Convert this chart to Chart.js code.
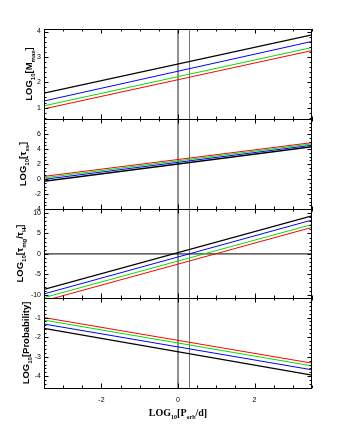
<!DOCTYPE html>
<html><head><meta charset="utf-8">
<script src="https://cdn.jsdelivr.net/npm/chart.js@4"></script>
<style>
html,body{margin:0;padding:0;background:#fff;}
#wrap{position:relative;width:340px;height:440px;background:#fff;}
.p{position:absolute;left:0;width:340px;}
</style></head><body><div id="wrap">
<div class="p" style="top:21px;height:106px"><canvas id="c1"></canvas></div>
<div class="p" style="top:111px;height:106px"><canvas id="c2"></canvas></div>
<div class="p" style="top:201px;height:105px"><canvas id="c3"></canvas></div>
<div class="p" style="top:290px;height:150px"><canvas id="c4"></canvas></div>
</div>
<script>
// ---- data ----
const logPorb = [-3.5, 3.5];            // x endpoints of each straight line
const markerLines = [0, 0.301];         // vertical reference lines (log P)
const xTicks = [-2, 0, 2];

// Panel 1: LOG10[Mmax]
const mmaxBlack = [1.57, 3.87];
const mmaxBlue  = [1.26, 3.61];
const mmaxGreen = [1.07, 3.37];
const mmaxRed   = [0.95, 3.25];
const yTicks1 = [1, 2, 3, 4];

// Panel 2: LOG10[tau_ss]
const tauBlack = [-0.30, 4.30];
const tauBlue  = [-0.05, 4.50];
const tauGreen = [0.15, 4.68];
const tauRed   = [0.35, 4.85];
const yTicks2 = [-4, -2, 0, 2, 4, 6];

// Panel 3: LOG10[tau_mg / tau_H]
const ratioBlack = [-8.7, 9.3];
const ratioBlue  = [-9.8, 8.3];
const ratioGreen = [-10.7, 7.2];
const ratioRed   = [-11.5, 6.5];
const ratioZero  = [0, 0];
const yTicks3 = [-10, -5, 0, 5, 10];

// Panel 4: LOG10[Probability]
const probBlack = [-1.55, -3.94];
const probBlue  = [-1.33, -3.67];
const probGreen = [-1.13, -3.47];
const probRed   = [-1.00, -3.33];
const yTicks4 = [-4, -3, -2, -1];

// ---- helpers ----
function pts(ys){ return logPorb.map((x,i)=>({x:x,y:ys[i]})); }
function series(ys,color,w){
  return {data:pts(ys),borderColor:color,borderWidth:w||1,pointRadius:0,fill:false,tension:0};
}
function vline(x,ymin,ymax,color){
  return {data:[{x:x,y:ymin},{x:x,y:ymax}],borderColor:color,borderWidth:1,pointRadius:0,fill:false};
}
function richText(ctx, parts, cx, cy, rot, size, family){
  const sub = Math.round(size*0.62);
  const mf = 'bold '+size+'px '+family, sf = 'bold '+sub+'px '+family;
  let W = 0;
  const ws = parts.map(p=>{ctx.font = p[1]?sf:mf; const w = ctx.measureText(p[0]).width; W+=w; return w;});
  ctx.save();
  ctx.translate(cx, cy);
  if (rot) ctx.rotate(-Math.PI/2);
  ctx.fillStyle = '#000';
  ctx.textBaseline = 'alphabetic';
  ctx.textAlign = 'left';
  let x = -W/2;
  parts.forEach((p,i)=>{
    ctx.font = p[1]?sf:mf;
    ctx.fillText(p[0], x, size*0.36 + (p[1]? size*0.3 : 0));
    x += ws[i];
  });
  ctx.restore();
}

const framePlugin = {
  id:'frame',
  afterDatasetsDraw(chart, args, o){
    const ctx = chart.ctx, a = chart.chartArea, xs = chart.scales.x, ys = chart.scales.y;
    ctx.save();
    ctx.strokeStyle = '#000'; ctx.lineWidth = 1;
    ctx.strokeRect(Math.round(a.left)+0.5, Math.round(a.top)+0.5, Math.round(a.right-a.left)-1, Math.round(a.bottom-a.top));
    ctx.beginPath();
    // x ticks (inward, top and bottom)
    for (let k = -7; k <= 7; k++){
      const v = k*0.5; if (v < xs.min || v > xs.max) continue;
      const px = Math.round(xs.getPixelForValue(v))+0.5;
      const L = (k % 4 === 0) ? 4.5 : 2.5;
      ctx.moveTo(px, a.bottom); ctx.lineTo(px, a.bottom-L);
      ctx.moveTo(px, a.top); ctx.lineTo(px, a.top+L);
    }
    // y ticks (inward, left and right)
    const st = o.minor;
    const n0 = Math.ceil(ys.min/st-1e-6), n1 = Math.floor(ys.max/st+1e-6);
    for (let k = n0; k <= n1; k++){
      const v = k*st;
      const major = o.ticks.some(t=>Math.abs(t-v)<1e-6);
      const py = Math.round(ys.getPixelForValue(v))+0.5;
      const L = major ? 4.5 : 2.5;
      ctx.moveTo(a.left, py); ctx.lineTo(a.left+L, py);
      ctx.moveTo(a.right, py); ctx.lineTo(a.right-L, py);
    }
    ctx.stroke();
    ctx.restore();
    richText(ctx, o.title, o.titleX, (a.top+a.bottom)/2, true, 9.5, '"Liberation Sans", Arial, sans-serif');
    if (o.xTitle) richText(ctx, o.xTitle, (a.left+a.right)/2, a.bottom+24, false, 10, '"Liberation Serif", "Times New Roman", serif');
  }
};

function makeChart(id, datasets, ymin, ymax, ticks, minor, title, titleX, last){
  const tickFont = {family:'"Liberation Sans", Arial, sans-serif', size:7};
  new Chart(document.getElementById(id), {
    type:'line',
    data:{datasets:datasets},
    plugins:[framePlugin],
    options:{
      responsive:true, maintainAspectRatio:false, animation:false,
      layout:{autoPadding:false, padding:{left:0,right:28,top:8,bottom:last?0:8}},
      plugins:{legend:{display:false}, tooltip:{enabled:false},
        frame:{ticks:ticks, minor:minor, title:title, titleX:titleX, xTitle:last?[['LOG',0],['10',1],['[P',0],['orb',1],['/d]',0]]:null}},
      scales:{
        x:{type:'linear', min:logPorb[0], max:logPorb[1], display:!!last,
           grid:{display:false, drawTicks:false}, border:{display:false},
           ticks:{font:tickFont, color:'#000', padding:8, maxRotation:0},
           afterBuildTicks:s=>{s.ticks = xTicks.map(v=>({value:v}));},
           afterFit:s=>{ if (last) s.height = 52; }},
        y:{type:'linear', min:ymin, max:ymax,
           grid:{display:false, drawTicks:false}, border:{display:false},
           ticks:{font:tickFont, color:'#000', padding:3},
           afterBuildTicks:s=>{s.ticks = ticks.map(v=>({value:v}));},
           afterFit:s=>{s.width = 44;}}
      }
    }
  });
}
const C = ['#000000','#0000ff','#00e000','#ff0000'];
function markers(ymin,ymax){ return [vline(markerLines[0],ymin,ymax,'#222'), vline(markerLines[1],ymin,ymax,'#777')]; }

makeChart('c1', [series(mmaxBlack,C[0],1.3),series(mmaxBlue,C[1]),series(mmaxGreen,C[2]),series(mmaxRed,C[3])].concat(markers(0.55,4.1)),
  0.55, 4.1, yTicks1, 0.2, [['LOG',0],['10',1],['[M',0],['max',1],[']',0]], 29, false);
makeChart('c2', [series(tauBlack,C[0],1.3),series(tauBlue,C[1]),series(tauGreen,C[2]),series(tauRed,C[3])].concat(markers(-4,8)),
  -4, 8, yTicks2, 0.5, [['LOG',0],['10',1],['[τ',0],['ss',1],[']',0]], 23, false);
makeChart('c3', [series(ratioBlack,C[0],1.3),series(ratioBlue,C[1]),series(ratioGreen,C[2]),series(ratioRed,C[3]),
  {data:pts(ratioZero),borderColor:'#000',borderWidth:1,pointRadius:0,fill:false}].concat(markers(-10.8,11)),
  -10.8, 11, yTicks3, 1, [['LOG',0],['10',1],['[τ',0],['mg',1],['/τ',0],['H',1],[']',0]], 20, false);
makeChart('c4', [series(probBlack,C[0],1.3),series(probBlue,C[1]),series(probGreen,C[2]),series(probRed,C[3])].concat(markers(-4.6,0)),
  -4.6, 0, yTicks4, 0.2, [['LOG',0],['10',1],['[Probability]',0]], 26, true);
</script></body></html>
